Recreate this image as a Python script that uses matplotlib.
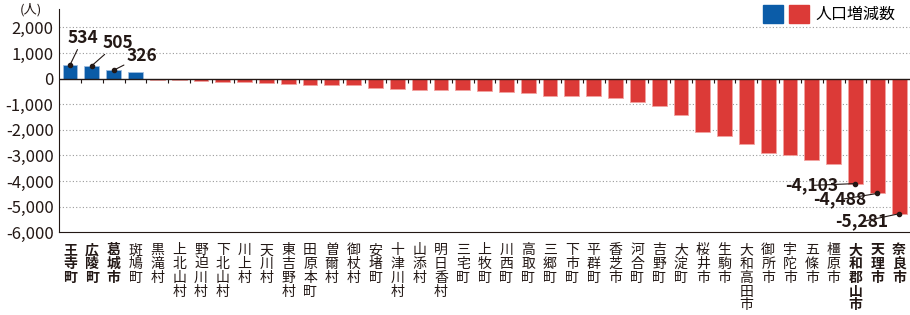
import numpy as np
import matplotlib.pyplot as plt
from matplotlib.patches import Patch
from matplotlib.legend_handler import HandlerTuple

plt.rcParams['font.family'] = ['Noto Sans CJK JP', 'DejaVu Sans']

# municipalities, ordered as in the chart
towns = [
    "王寺町", "広陵町", "葛城市", "斑鳩町", "黒滝村", "上北山村", "野迫川村", "下北山村",
    "川上村", "天川村", "東吉野村", "田原本町", "曽爾村", "御杖村", "安堵町", "十津川村",
    "山添村", "明日香村", "三宅町", "上牧町", "川西町", "高取町", "三郷町", "下市町",
    "平群町", "香芝市", "河合町", "吉野町", "大淀町", "桜井市", "生駒市", "大和高田市",
    "御所市", "宇陀市", "五條市", "橿原市", "大和郡山市", "天理市", "奈良市",
]
change = [
    534, 505, 326, 245, -60, -75, -100, -125,
    -150, -170, -195, -245, -255, -265, -365, -420,
    -430, -440, -460, -500, -525, -565, -665, -670,
    -695, -750, -920, -1090, -1420, -2075, -2230, -2560,
    -2900, -2990, -3190, -3320, -4103, -4488, -5281,
]
labelled = {"王寺町": "534", "広陵町": "505", "葛城市": "326",
            "大和郡山市": "-4,103", "天理市": "-4,488", "奈良市": "-5,281"}

BLUE = "#0b5ca8"
RED = "#dc3a37"
INK = "#231815"

fig = plt.figure(figsize=(9.1, 3.15), dpi=100)
ax = fig.add_axes([0.065, 0.263, 0.935, 0.707])

x = np.arange(len(towns))
vals = np.array(change)
colors = [BLUE if v > 0 else RED for v in vals]
ax.bar(x, vals, width=0.68, color=colors, edgecolor=["#9fbde0" if v > 0 else "#f2a3a0" for v in vals],
       linewidth=0.6, zorder=3)

ax.set_xlim(-0.5, len(towns) - 0.5)
ax.set_ylim(-6000, 2700)
ax.set_yticks(np.arange(-6000, 2001, 1000))
ax.set_yticklabels([f"{t:,}" for t in range(-6000, 2001, 1000)], fontsize=12, color=INK)
for t in range(-5000, 2001, 1000):
    if t != 0:
        ax.axhline(t, color="#9a9a9a", lw=0.8, ls=(0, (1, 2)), zorder=1)
ax.axhline(0, color=INK, lw=1.0, zorder=4)
ax.vlines(x[:-1] + 0.5, -160, 0, color=INK, lw=0.8, zorder=4)

for s in ["top", "right"]:
    ax.spines[s].set_visible(False)
ax.spines["left"].set_color(INK)
ax.spines["bottom"].set_color(INK)
ax.tick_params(axis="y", length=0, pad=4)
ax.tick_params(axis="x", length=0, pad=8)

ax.set_xticks(x)
ax.set_xticklabels(["\n".join(t) for t in towns], fontsize=10, va="top", linespacing=0.98,
                   color=INK)
for lab, t in zip(ax.get_xticklabels(), towns):
    if t in labelled:
        lab.set_fontweight("bold")

ax.text(-0.02, 1.0, "(人)", transform=ax.transAxes, ha="right", va="center", fontsize=9.5,
        color=INK)

# value call-outs
offsets = {"王寺町": (0.6, 1060), "広陵町": (1.2, 900), "葛城市": (1.3, 560),
           "大和郡山市": (-0.8, -70), "天理市": (-0.5, -240), "奈良市": (-0.5, -310)}
for i, t in enumerate(towns):
    if t not in labelled:
        continue
    v = vals[i]
    dx, dy = offsets[t]
    ax.plot(i, v, "o", ms=3, color=INK, zorder=5)
    arrow = dict(arrowstyle="-", color=INK, lw=0.8, shrinkA=0, shrinkB=0)
    if v < 0:
        arrow.update(patchA=None, shrinkA=2)
    ax.annotate(labelled[t], xy=(i, v), xytext=(i + dx, v + dy), fontsize=12.5,
                fontweight="bold", color=INK,
                ha="center" if v > 0 else "right", va="center", zorder=6,
                arrowprops=arrow)

handles = [(Patch(color=BLUE), Patch(color=RED))]
fig.legend(handles, ["人口増減数"], handler_map={tuple: HandlerTuple(ndivide=None, pad=0.35)},
           loc="upper right", bbox_to_anchor=(1.0, 1.03), frameon=False, fontsize=11.5,
           handlelength=2.9, handleheight=1.35, handletextpad=0.4)

fig.savefig("out.png", dpi=100)
